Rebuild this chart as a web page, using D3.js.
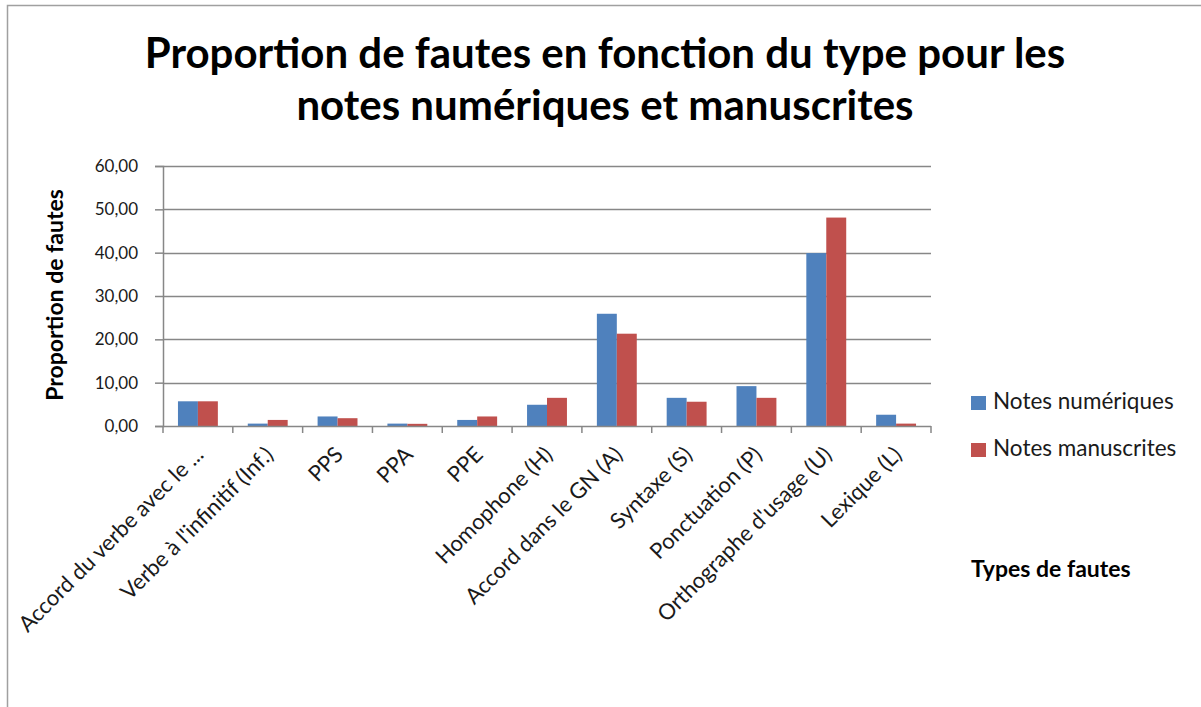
<!DOCTYPE html>
<html>
<head>
<meta charset="utf-8">
<script src="https://cdn.jsdelivr.net/npm/d3@7"></script>
<style>
  body { margin: 0; background: #fff; }
  text { font-family: Lato, "Open Sans", sans-serif; }
</style>
</head>
<body>
<svg id="chart" width="1201" height="707"></svg>
<script>
// types de fautes
let categories = [
    "Accord du verbe avec le ...",
    "Verbe à l'infinitif (Inf.)",
    "PPS",
    "PPA",
    "PPE",
    "Homophone (H)",
    "Accord dans le GN (A)",
    "Syntaxe (S)",
    "Ponctuation (P)",
    "Orthographe d'usage (U)",
    "Lexique (L)"
];
let numeriques = [5.7, 0.55, 2.2, 0.55, 1.4, 4.9, 25.9, 6.5, 9.2, 39.9, 2.6];
let manuscrites = [5.7, 1.4, 1.8, 0.5, 2.2, 6.5, 21.3, 5.6, 6.5, 48.1, 0.55];
let seriesNames = ["Notes numériques", "Notes manuscrites"];
let yTicks = [0, 10, 20, 30, 40, 50, 60];

let colors = ["#4f81bd", "#c0504d"];
let gridColor = "#878787";

let svg = d3.select("#chart");

// cadre
svg.append("path")
    .attr("d", "M7.5,707 L7.5,5.5 L1201,5.5")
    .attr("fill", "none")
    .attr("stroke", "#a0a0a0")
    .attr("stroke-width", 1.5);

// titre
let title = svg.append("text")
    .attr("text-anchor", "middle")
    .attr("font-weight", "bold")
    .attr("font-size", 42)
    .attr("fill", "#000");
title.append("tspan").attr("x", 605).attr("y", 68).text("Proportion de fautes en fonction du type pour les");
title.append("tspan").attr("x", 605).attr("y", 120).text("notes numériques et manuscrites");

let pLeft = 163, pRight = 931, pTop = 166, pBottom = 426;

let x = d3.scaleBand()
    .domain(categories)
    .range([pLeft, pRight])
    .paddingInner(0)
    .paddingOuter(0);

let y = d3.scaleLinear()
    .domain([0, 60])
    .range([pBottom, pTop]);

let x1 = d3.scaleBand()
    .domain([0, 1])
    .range([0, x.bandwidth()])
    .paddingOuter(0.75)
    .paddingInner(0);

// grille
svg.append("g")
    .selectAll("line")
    .data(yTicks.filter(d => d > 0))
    .enter()
    .append("line")
    .attr("x1", pLeft)
    .attr("x2", pRight)
    .attr("y1", d => Math.round(y(d)) + 0.5)
    .attr("y2", d => Math.round(y(d)) + 0.5)
    .attr("stroke", gridColor)
    .attr("stroke-width", 1.5);

// barres
let groups = svg.append("g")
    .selectAll(".cat")
    .data(categories)
    .enter()
    .append("g")
    .attr("class", "cat")
    .attr("transform", d => `translate(${x(d)},0)`);

groups.selectAll("rect")
    .data((d, i) => [numeriques[i], manuscrites[i]])
    .enter()
    .append("rect")
    .attr("x", (d, j) => x1(j))
    .attr("width", x1.bandwidth())
    .attr("y", d => y(d))
    .attr("height", d => pBottom - y(d))
    .attr("fill", (d, j) => colors[j]);

// axe Y
let yAxis = svg.append("g")
    .attr("transform", `translate(${pLeft},0)`)
    .call(d3.axisLeft(y)
        .tickValues(yTicks)
        .tickSize(8)
        .tickPadding(17)
        .tickFormat(d => d3.format(".2f")(d).replace(".", ",")));
yAxis.select(".domain").attr("stroke", gridColor).attr("stroke-width", 1.5);
yAxis.selectAll(".tick line").attr("stroke", gridColor).attr("stroke-width", 1.5);
yAxis.selectAll(".tick text")
    .attr("font-size", 17)
    .attr("font-family", "Lato, sans-serif")
    .attr("fill", "#1a1a1a");

// axe X
let bounds = d3.range(categories.length + 1).map(i => pLeft + i * x.bandwidth());
svg.append("line")
    .attr("x1", pLeft).attr("x2", pRight)
    .attr("y1", pBottom + 0.5).attr("y2", pBottom + 0.5)
    .attr("stroke", gridColor).attr("stroke-width", 1.5);
svg.append("g")
    .selectAll("line")
    .data(bounds)
    .enter()
    .append("line")
    .attr("x1", d => d).attr("x2", d => d)
    .attr("y1", pBottom).attr("y2", pBottom + 7)
    .attr("stroke", gridColor)
    .attr("stroke-width", 1.5);

svg.append("g")
    .selectAll("text")
    .data(categories)
    .enter()
    .append("text")
    .attr("text-anchor", "end")
    .attr("font-size", 22)
    .attr("fill", "#1a1a1a")
    .attr("transform", d => `translate(${x(d) + x.bandwidth() / 2 + 7},${pBottom + 30}) rotate(-45)`)
    .text(d => d);

// titre axe Y
svg.append("text")
    .attr("transform", `translate(63,295) rotate(-90)`)
    .attr("text-anchor", "middle")
    .attr("font-weight", "bold")
    .attr("font-size", 23)
    .text("Proportion de fautes");

// titre axe X
svg.append("text")
    .attr("x", 971)
    .attr("y", 577)
    .attr("font-weight", "bold")
    .attr("font-size", 23)
    .text("Types de fautes");

// légende
let legend = svg.append("g")
    .selectAll(".leg")
    .data(seriesNames)
    .enter()
    .append("g")
    .attr("class", "leg")
    .attr("transform", (d, i) => `translate(971,${396 + i * 47})`);
legend.append("rect")
    .attr("width", 15)
    .attr("height", 14)
    .attr("fill", (d, i) => colors[i]);
legend.append("text")
    .attr("x", 22)
    .attr("y", 13)
    .attr("font-size", 22.5)
    .attr("fill", "#1a1a1a")
    .text(d => d);
</script>
</body>
</html>
